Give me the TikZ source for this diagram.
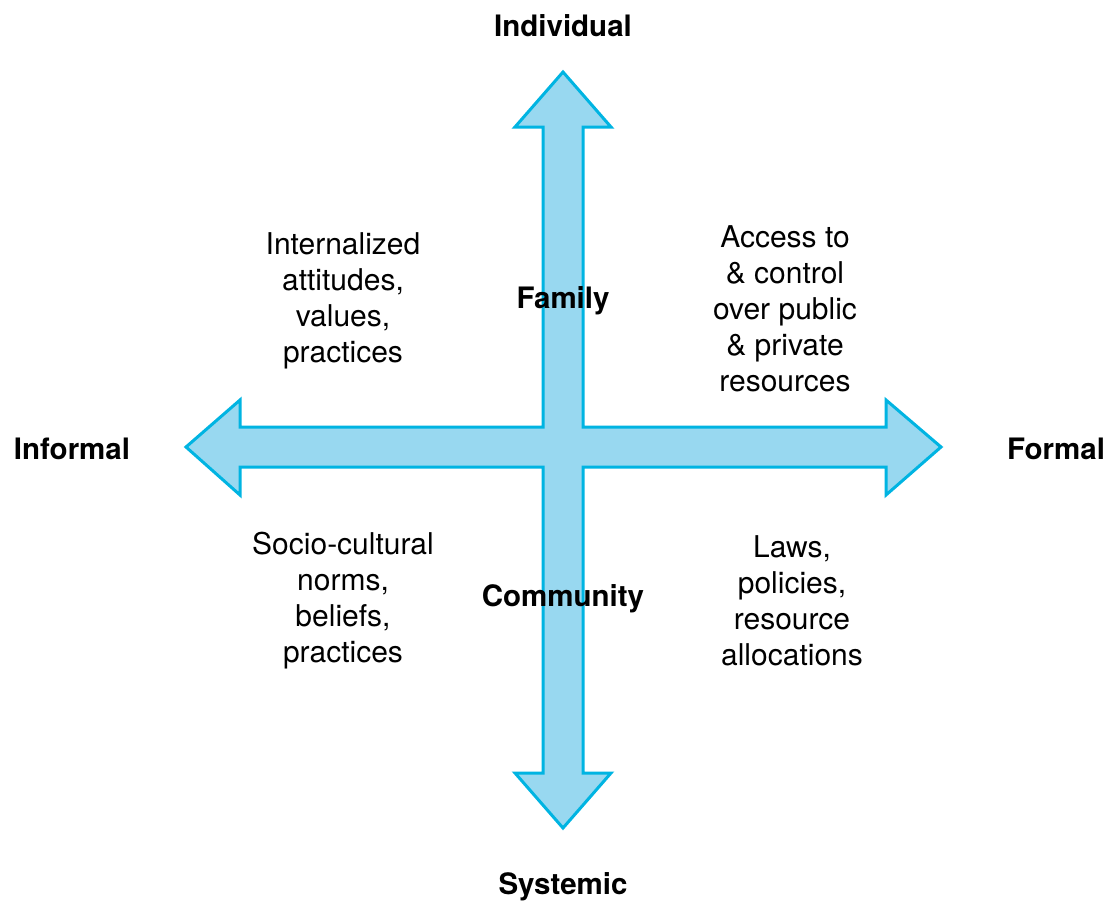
\documentclass[tikz,border=0pt]{standalone}
\usepackage{fontspec}
\setmainfont{TeX Gyre Heros}
\definecolor{crossfill}{RGB}{152,216,240}
\definecolor{crossline}{RGB}{0,180,226}
\begin{document}
\begin{tikzpicture}[x=1pt,y=-1pt,
  lbl/.style={font=\fontsize{29.5}{36}\selectfont\bfseries, inner sep=0pt},
  txt/.style={font=\fontsize{30}{36}\selectfont, align=center, inner sep=0pt}]
\useasboundingbox (0,0) rectangle (1113,903);
\fill[white] (0,0) rectangle (1113,903);
\draw[crossline, fill=crossfill, line width=3pt, line join=miter]
  (563,72) -- (611,127) -- (583,127) -- (583,427) -- (886,427) -- (886,400)
  -- (941,447) -- (886,495) -- (886,467) -- (583,467) -- (583,773) -- (611,773)
  -- (563,828) -- (515,773) -- (543,773) -- (543,467) -- (240,467) -- (240,495)
  -- (186,447) -- (240,400) -- (240,427) -- (543,427) -- (543,127) -- (515,127) -- cycle;
\node[lbl] (ind) at (563,26) {Individual};
\node[lbl] (sys) at (563,887) {Systemic};
\node[lbl] (inf) at (72,449) {Informal};
\node[lbl] (for) at (1056,449) {Formal};
\node[lbl] (fam) at (563,301) {Family};
\node[lbl] (com) at (563,599) {Community};
\node[txt] (tl) at (343,301) {Internalized\\attitudes,\\values,\\practices};
\node[txt] (tr) at (785,309) {Access to\\\& control\\over public\\\& private\\resources};
\node[txt] (bl) at (343,601) {Socio-cultural\\norms,\\beliefs,\\practices};
\node[txt] (br) at (792,601) {Laws,\\policies,\\resource\\allocations};
\end{tikzpicture}
\end{document}
